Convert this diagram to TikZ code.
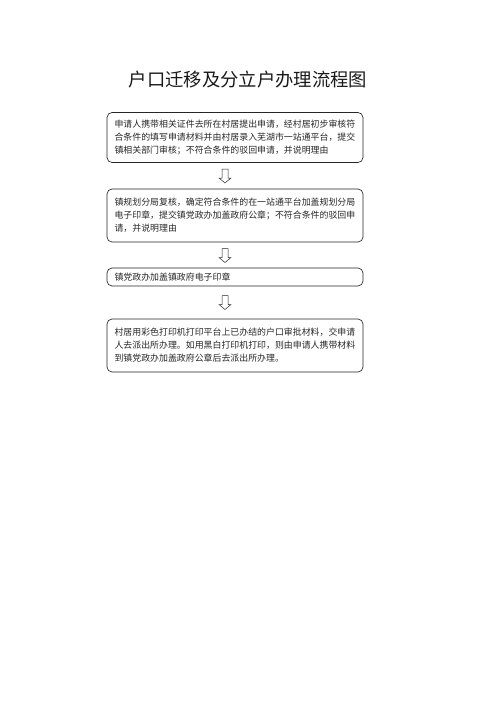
\documentclass[tikz,border=0pt]{standalone}
\usepackage{fontspec}
\setmainfont{Noto Sans CJK SC}
\begin{document}
\begin{tikzpicture}[x=1.2pt,y=-1.2pt,
  box/.style={draw=black!85, line width=0.8pt, rounded corners=6pt,
    minimum width=307.2pt, inner xsep=9pt, inner ysep=0pt,
    text width=289.2pt, align=left, text=black!85,
    font=\fontsize{10.7pt}{15.6pt}\selectfont},
  blockarrow/.style={draw=black!85, line width=0.6pt, fill=white, line join=miter}]
\useasboundingbox (0,0) rectangle (496,702);
\node[font=\fontsize{22pt}{26pt}\selectfont, text=black!90] (title) at (248,80) {户口迁移及分立户办理流程图};
\node[box, minimum height=60pt] (b1) at (235,137.5)
  {申请人携带相关证件去所在村居提出申请，经村居初步审核符\\合条件的填写申请材料并由村居录入芜湖市一站通平台，提交\\镇相关部门审核；不符合条件的驳回申请，并说明理由};
\node[box, minimum height=63.6pt] (b2) at (235,215.5)
  {镇规划分局复核，确定符合条件的在一站通平台加盖规划分局\\电子印章，提交镇党政办加盖政府公章；不符合条件的驳回申\\请，并说明理由};
\node[box, minimum height=21.6pt] (b3) at (235,277)
  {镇党政办加盖镇政府电子印章};
\node[box, minimum height=63.6pt] (b4) at (235,345.5)
  {村居用彩色打印机打印平台上已办结的户口审批材料，交申请\\人去派出所办理。如用黑白打印机打印，则由申请人携带材料\\到镇党政办加盖政府公章后去派出所办理。};
\coordinate (a1) at (225,176);
\coordinate (a2) at (225,255.5);
\coordinate (a3) at (225,302.5);
\foreach \a in {a1,a2,a3}
  \draw[blockarrow] (\a) ++(-3,-7) -- ++(6,0) -- ++(0,9) -- ++(3,0) -- ++(-6,5) -- ++(-6,-5) -- ++(3,0) -- cycle;
\end{tikzpicture}
\end{document}
